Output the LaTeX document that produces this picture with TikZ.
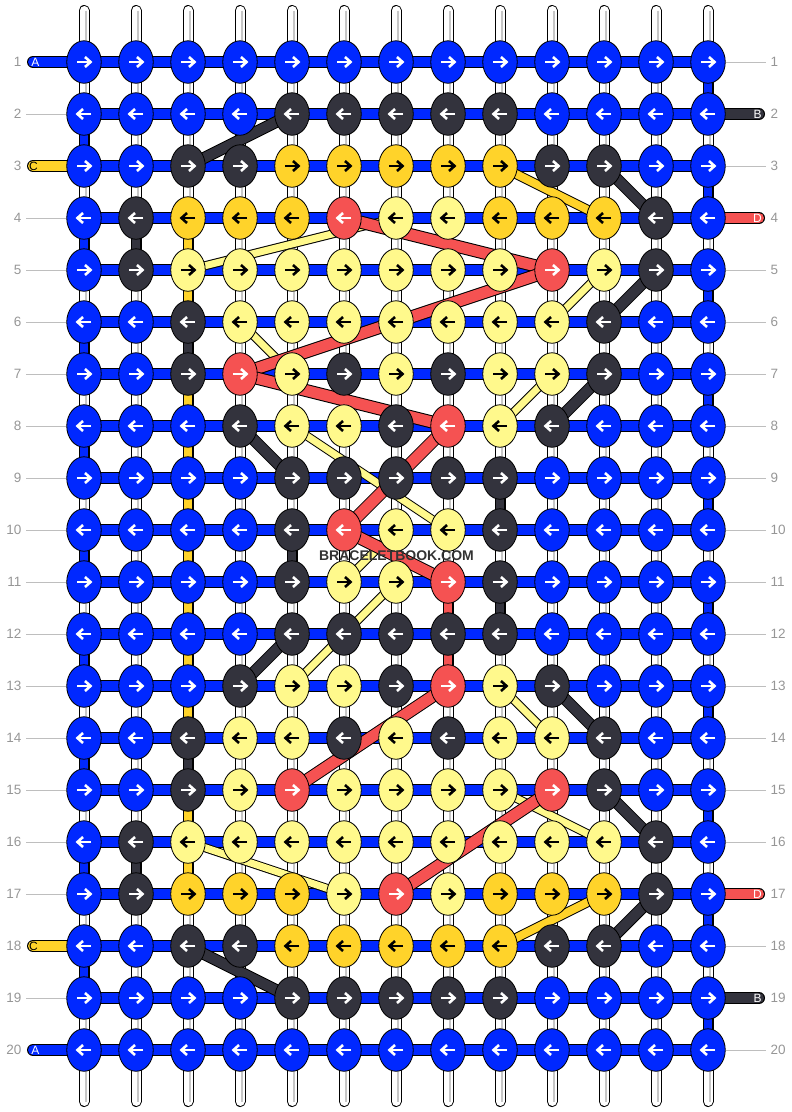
\documentclass[tikz,border=0pt]{standalone}
\usepackage{fontspec}
\setmainfont{Liberation Sans}
\usetikzlibrary{shapes.geometric}
\definecolor{cB}{RGB}{0,40,255}
\definecolor{cK}{RGB}{51,51,61}
\definecolor{cY}{RGB}{255,211,42}
\definecolor{cL}{RGB}{255,249,140}
\definecolor{cR}{RGB}{245,82,82}
\definecolor{numgray}{RGB}{150,150,150}
\definecolor{linegray}{RGB}{190,190,190}
\def\acB{white}\def\acK{white}\def\acR{white}\def\acY{black}\def\acL{black}
\newcommand\vconn[4]{%
  \draw[line width=10.5pt] (g-#2-#1) -- (g-#3-#1);
  \draw[line width=8.5pt,#4] (g-#2-#1) -- (g-#3-#1);}
\newcommand\strand[5]{%
  \draw[line width=#1] (#4) -- (#5);
  \draw[line width=#2,#3] (#4) -- (#5);}
\newcommand\tailbar[3]{%
  \draw[line width=12pt,line cap=round] (#1) -- (#2);
  \draw[line width=10pt,line cap=round,#3] (#1) -- (#2);}
\newcommand\knotrow[3]{%
  \foreach \col [count=\c] in {#3} {%
    \node[knot,fill=c\col] (k-#1-\c) at (g-#1-\c) {};
    \draw[arrowst,draw=\csname ac\col\endcsname] (k-#1-\c.center) ++({-7*#2},0) -- ++({13*#2},0);
    \draw[arrowst,draw=\csname ac\col\endcsname] (k-#1-\c.center) ++({1*#2},-5) -- ++({5.5*#2},5) -- ++({-5.5*#2},5);
  }}
\begin{document}
\begin{tikzpicture}[x=1pt,y=-1pt,
  knot/.style={ellipse,draw=black,line width=0.8pt,minimum width=34.5pt,minimum height=42.5pt,inner sep=0pt},
  arrowst/.style={line width=2.6pt,line join=miter,line cap=butt},
  numst/.style={text=numgray,font=\fontsize{13.5}{14}\selectfont,inner sep=0pt},
  gline/.style={draw=linegray,line width=1pt},
  taillab/.style={font=\fontsize{12}{12}\selectfont,inner sep=0pt}]
\useasboundingbox (0,0) rectangle (792,1112);
% grid coordinates
\foreach \r in {1,...,20}{
  \foreach \c in {1,...,13}{
    \coordinate (g-\r-\c) at ({84+52*(\c-1)},{62+52*(\r-1)});
  }
  \coordinate (L-\r) at (33,{62+52*(\r-1)});
  \coordinate (R-\r) at (759,{62+52*(\r-1)});
}
% warp strings
\foreach \c in {1,...,13}{
  \coordinate (T-\c) at ({84+52*(\c-1)},10.5);
  \coordinate (U-\c) at ({84+52*(\c-1)},1101.5);
  \draw[line width=11pt,line cap=round] (T-\c) -- (U-\c);
  \draw[line width=9pt,line cap=round,white] (T-\c) -- (U-\c);
  \draw[line width=1.2pt,black!22] ([xshift=2pt]T-\c) -- ([xshift=2pt]U-\c);
}
% coloured vertical connectors
\foreach \r [evaluate=\r as \s using int(\r+1)] in {1,3,...,19} {\vconn{13}{\r}{\s}{cB}}
\foreach \r [evaluate=\r as \s using int(\r+1)] in {2,4,...,18} {\vconn{1}{\r}{\s}{cB}}
\foreach \r [evaluate=\r as \s using int(\r+1)] in {4,5,7,8,9,10,11,12,13,15,16} {\vconn{3}{\r}{\s}{cY}}
\vconn{3}{6}{7}{cK}
\vconn{3}{14}{15}{cK}
\vconn{2}{4}{5}{cK}
\vconn{2}{16}{17}{cK}
\vconn{9}{9}{10}{cK}
\vconn{9}{11}{12}{cK}
\vconn{5}{10}{11}{cK}
\vconn{8}{11}{12}{cR}
\vconn{8}{12}{13}{cR}
% horizontal bars
\foreach \r in {1,...,20}{
  \draw[line width=12pt] (g-\r-1) -- (g-\r-13);
  \draw[line width=10pt,cB] (g-\r-1) -- (g-\r-13);
}
% tails
\tailbar{L-1}{g-1-1}{cB}
\tailbar{L-3}{g-3-1}{cY}
\tailbar{L-18}{g-18-1}{cY}
\tailbar{L-20}{g-20-1}{cB}
\tailbar{R-2}{g-2-13}{cK}
\tailbar{R-4}{g-4-13}{cR}
\tailbar{R-17}{g-17-13}{cR}
\tailbar{R-19}{g-19-13}{cK}
% light strands
\strand{9pt}{7pt}{cL}{g-5-3}{g-4-7}
\strand{9pt}{7pt}{cL}{g-5-11}{g-6-10}
\strand{9pt}{7pt}{cL}{g-6-4}{g-7-5}
\strand{9pt}{7pt}{cL}{g-7-10}{g-8-9}
\strand{9pt}{7pt}{cL}{g-8-5}{g-10-8}
\strand{9pt}{7pt}{cL}{g-11-6}{g-10-7}
\strand{9pt}{7pt}{cL}{g-11-7}{g-13-5}
\strand{9pt}{7pt}{cL}{g-13-9}{g-14-10}
\strand{9pt}{7pt}{cL}{g-15-9}{g-16-11}
\strand{9pt}{7pt}{cL}{g-16-3}{g-17-6}
% gold strands
\strand{10pt}{8pt}{cY}{g-3-9}{g-4-11}
\strand{10pt}{8pt}{cY}{g-18-9}{g-17-11}
% dark strands
\strand{12pt}{10pt}{cK}{g-3-3}{g-2-5}
\strand{12pt}{10pt}{cK}{g-3-11}{g-4-12}
\strand{12pt}{10pt}{cK}{g-5-12}{g-6-11}
\strand{12pt}{10pt}{cK}{g-7-11}{g-8-10}
\strand{12pt}{10pt}{cK}{g-8-4}{g-9-5}
\strand{12pt}{10pt}{cK}{g-13-4}{g-12-5}
\strand{12pt}{10pt}{cK}{g-13-10}{g-14-11}
\strand{12pt}{10pt}{cK}{g-15-11}{g-16-12}
\strand{12pt}{10pt}{cK}{g-18-11}{g-17-12}
\strand{12pt}{10pt}{cK}{g-18-3}{g-19-5}
% red strands
\strand{13pt}{11pt}{cR}{g-4-6}{g-5-10}
\strand{13pt}{11pt}{cR}{g-5-10}{g-7-4}
\strand{13pt}{11pt}{cR}{g-7-4}{g-8-8}
\strand{13pt}{11pt}{cR}{g-8-8}{g-10-6}
\strand{13pt}{11pt}{cR}{g-10-6}{g-11-8}
\strand{13pt}{11pt}{cR}{g-13-8}{g-15-5}
\strand{13pt}{11pt}{cR}{g-15-10}{g-17-7}
% knots
\knotrow{1}{1}{B,B,B,B,B,B,B,B,B,B,B,B,B}
\knotrow{2}{-1}{B,B,B,B,K,K,K,K,K,B,B,B,B}
\knotrow{3}{1}{B,B,K,K,Y,Y,Y,Y,Y,K,K,B,B}
\knotrow{4}{-1}{B,K,Y,Y,Y,R,L,L,Y,Y,Y,K,B}
\knotrow{5}{1}{B,K,L,L,L,L,L,L,L,R,L,K,B}
\knotrow{6}{-1}{B,B,K,L,L,L,L,L,L,L,K,B,B}
\knotrow{7}{1}{B,B,K,R,L,K,L,K,L,L,K,B,B}
\knotrow{8}{-1}{B,B,B,K,L,L,K,R,L,K,B,B,B}
\knotrow{9}{1}{B,B,B,B,K,K,K,K,K,B,B,B,B}
\knotrow{10}{-1}{B,B,B,B,K,R,L,L,K,B,B,B,B}
\knotrow{11}{1}{B,B,B,B,K,L,L,R,K,B,B,B,B}
\knotrow{12}{-1}{B,B,B,B,K,K,K,K,K,B,B,B,B}
\knotrow{13}{1}{B,B,B,K,L,L,K,R,L,K,B,B,B}
\knotrow{14}{-1}{B,B,K,L,L,K,L,K,L,L,K,B,B}
\knotrow{15}{1}{B,B,K,L,R,L,L,L,L,R,K,B,B}
\knotrow{16}{-1}{B,K,L,L,L,L,L,L,L,L,L,K,B}
\knotrow{17}{1}{B,K,Y,Y,Y,L,R,L,Y,Y,Y,K,B}
\knotrow{18}{-1}{B,B,K,K,Y,Y,Y,Y,Y,K,K,B,B}
\knotrow{19}{1}{B,B,B,B,K,K,K,K,K,B,B,B,B}
\knotrow{20}{-1}{B,B,B,B,B,B,B,B,B,B,B,B,B}
% row numbers
\foreach \r in {1,...,20}{
  \node[numst,anchor=east] (nl-\r) at (21.5,{62+52*(\r-1)}) {\r};
  \node[numst,anchor=west] (nr-\r) at (770.5,{62+52*(\r-1)}) {\r};
}
\foreach \r in {2,4,5,6,7,8,9,10,11,12,13,14,15,16,17,19}{
  \draw[gline] ([xshift=4.5pt]nl-\r.east) -- (k-\r-1.west);
}
\foreach \r in {1,3,5,6,7,8,9,10,11,12,13,14,15,16,18,20}{
  \draw[gline] (k-\r-13.east) -- ([xshift=-4.5pt]nr-\r.west);
}
% tail labels
\node[taillab,text=white] (tA1) at (35.5,62) {A};
\node[taillab,text=black] (tC3) at (33.5,166) {C};
\node[taillab,text=black] (tC18) at (33.5,946) {C};
\node[taillab,text=white] (tA20) at (35.5,1050) {A};
\node[taillab,text=white] (tB2) at (757.5,114) {B};
\node[taillab,text=white] (tD4) at (757.5,218) {D};
\node[taillab,text=white] (tD17) at (757.5,894) {D};
\node[taillab,text=white] (tB19) at (757.5,998) {B};
% watermark
\node[font=\bfseries\fontsize{14}{14}\selectfont,text=black!80,inner sep=0pt] (title) at (396.5,556) {BRACELETBOOK.COM};
\end{tikzpicture}
\end{document}
